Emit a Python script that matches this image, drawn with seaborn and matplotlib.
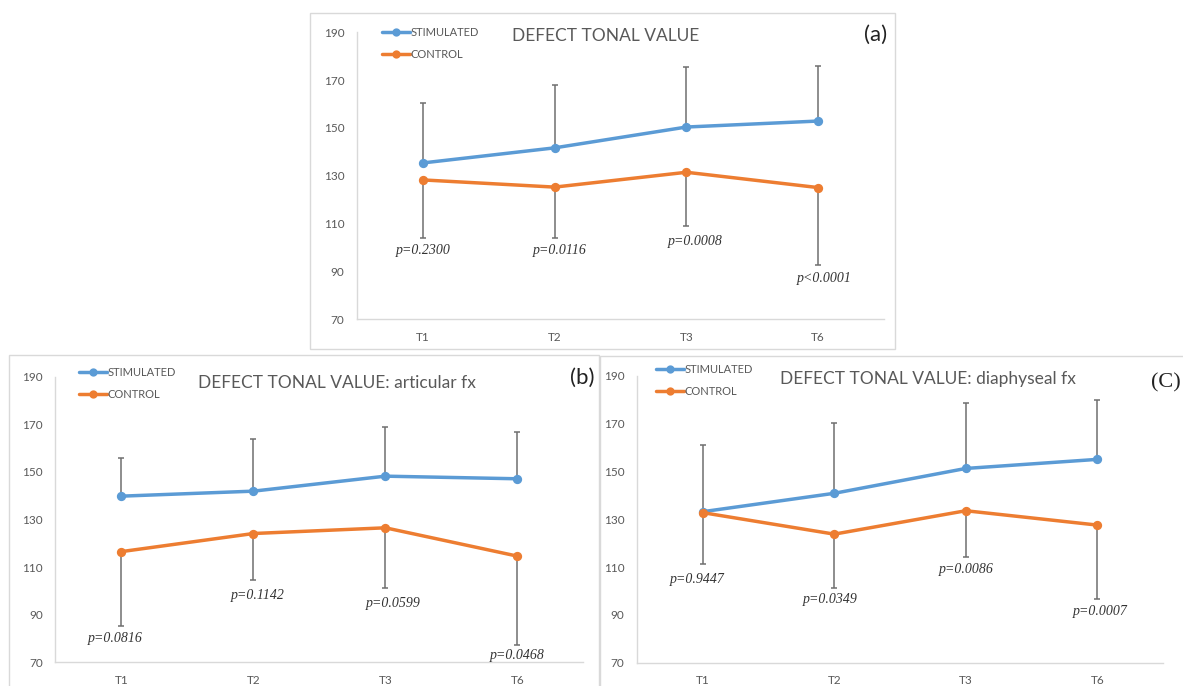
import matplotlib
matplotlib.use('Agg')
import matplotlib.pyplot as plt
from matplotlib.patches import Rectangle
import numpy as np
import pandas as pd
import seaborn as sns

sns.set_style("white")
plt.rcParams['font.family'] = ['Lato', 'DejaVu Sans']

times = ['T1', 'T2', 'T3', 'T6']
groups = ['STIMULATED', 'CONTROL']

# (a) all fractures
stim_a = [135.4, 141.7, 150.4, 152.9]
stim_a_top = [160.3, 167.9, 175.3, 176.0]
ctrl_a = [128.3, 125.3, 131.5, 125.1]
ctrl_a_low = [104.0, 104.0, 109.2, 92.6]
p_a = ['p=0.2300', 'p=0.0116', 'p=0.0008', 'p<0.0001']

# (b) articular fx
stim_b = [139.8, 141.9, 148.2, 147.1]
stim_b_top = [155.9, 163.9, 168.8, 166.7]
ctrl_b = [116.5, 124.1, 126.5, 114.6]
ctrl_b_low = [85.4, 104.5, 101.4, 77.4]
p_b = ['p=0.0816', 'p=0.1142', 'p=0.0599', 'p=0.0468']

# (c) diaphyseal fx
stim_c = [133.2, 140.9, 151.3, 155.1]
stim_c_top = [161.1, 170.2, 178.5, 179.9]
ctrl_c = [132.8, 123.8, 133.6, 127.6]
ctrl_c_low = [111.3, 101.4, 114.4, 96.5]
p_c = ['p=0.9447', 'p=0.0349', 'p=0.0086', 'p=0.0007']

blue = '#5B9BD5'
orange = '#ED7D31'
grey = '#595959'
light = '#d9d9d9'

fig = plt.figure(figsize=(11.83, 6.86), dpi=100)

# panel frames
for x0, y0, w, h in [(0.262, 0.4913, 0.4945, 0.4902),
                     (0.0079, -0.02, 0.4987, 0.5025),
                     (0.5072, -0.02, 0.51, 0.501)]:
    fig.add_artist(Rectangle((x0, y0), w, h, transform=fig.transFigure,
                             fill=False, edgecolor=light, lw=1))


def panel(rect, stim, stim_top, ctrl, ctrl_low, pvals, p_y, p_dx,
          title, title_xy, tag, tag_xy, tag_font, leg_xy):
    ax = fig.add_axes(rect)
    df = pd.DataFrame({
        'time': times * 2,
        'value': stim + ctrl,
        'group': [groups[0]] * 4 + [groups[1]] * 4,
    })
    sns.pointplot(data=df, x='time', y='value', hue='group', order=times,
                  hue_order=groups, palette=[blue, orange], errorbar=None,
                  markers='o', linewidth=2.5, markersize=4.8, ax=ax)
    xs = np.arange(len(times))
    s = np.array(stim)
    c = np.array(ctrl)
    ax.errorbar(xs, s, yerr=[np.zeros(4), np.array(stim_top) - s], fmt='none',
                ecolor='#6f6f6f', elinewidth=1.1, capsize=2, capthick=1.1, zorder=0)
    ax.errorbar(xs, c, yerr=[c - np.array(ctrl_low), np.zeros(4)], fmt='none',
                ecolor='#6f6f6f', elinewidth=1.1, capsize=2, capthick=1.1, zorder=0)
    for i, t in enumerate(pvals):
        ax.text(i + p_dx[i], p_y[i], t, ha='center', va='center', fontsize=10,
                style='italic', family='Liberation Serif', color='#333333')
    ax.set_xlim(-0.5, 3.5)
    ax.set_ylim(70, 190)
    ax.set_yticks(np.arange(70, 191, 20))
    ax.set_xlabel('')
    ax.set_ylabel('')
    ax.tick_params(axis='both', length=0, labelsize=8.5, labelcolor=grey)
    ax.tick_params(axis='y', pad=9)
    ax.tick_params(axis='x', pad=9)
    for sp in ['top', 'right']:
        ax.spines[sp].set_visible(False)
    for sp in ['left', 'bottom']:
        ax.spines[sp].set_color(light)
        ax.spines[sp].set_linewidth(1)
    ax.patch.set_alpha(0)
    sns.move_legend(ax, 'center left', bbox_to_anchor=leg_xy, frameon=False,
                    title=None, fontsize=8, labelcolor=grey, borderpad=0,
                    borderaxespad=0, handlelength=2.5, handletextpad=0.05,
                    labelspacing=0.95, markerscale=0.85)
    ax.text(title_xy[0], title_xy[1], title, transform=ax.transAxes,
            ha='center', va='center', fontsize=12.5, color=grey)
    ax.text(tag_xy[0], tag_xy[1], tag, transform=ax.transAxes, ha='center',
            va='center', fontsize=16, color='#222222', family=tag_font)
    return ax


panel([0.3018, 0.5343, 0.4455, 0.4187], stim_a, stim_a_top, ctrl_a, ctrl_a_low,
      p_a, [98.7, 98.7, 102.7, 87.2], [0, 0.04, 0.07, 0.045],
      'DEFECT TONAL VALUE', (0.4725, 0.988), '(a)', (0.983, 0.99), 'Lato',
      (0.047, 0.9615))
panel([0.0469, 0.0346, 0.4462, 0.4163], stim_b, stim_b_top, ctrl_b, ctrl_b_low,
      p_b, [79.8, 98.0, 94.7, 72.8], [-0.045, 0.03, 0.06, 0],
      'DEFECT TONAL VALUE: articular fx', (0.534, 0.977), '(b)', (0.9975, 0.995),
      'Lato', (0.0445, 0.977))
panel([0.5385, 0.034, 0.4446, 0.4179], stim_c, stim_c_top, ctrl_c, ctrl_c_low,
      p_c, [104.9, 96.5, 108.8, 91.3], [-0.045, -0.03, 0, 0.02],
      'DEFECT TONAL VALUE: diaphyseal fx', (0.554, 0.9885), '(C)', (1.006, 0.9756),
      'Liberation Serif', (0.036, 0.985))

fig.savefig('out.png', dpi=100)
